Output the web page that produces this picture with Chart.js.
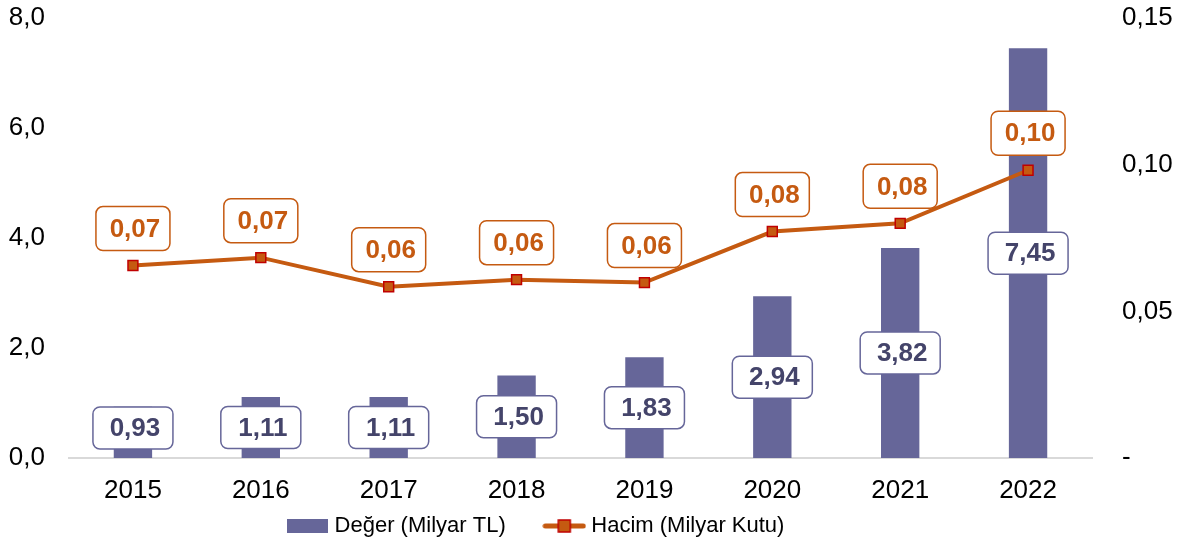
<!DOCTYPE html>
<html>
<head>
<meta charset="utf-8">
<script src="https://cdn.jsdelivr.net/npm/chart.js@4/dist/chart.umd.min.js"></script>
<style>
  html, body { margin: 0; padding: 0; background: #fff; }
  #box { width: 1184px; height: 547px; }
</style>
</head>
<body>
<div id="box"><canvas id="graf"></canvas></div>
<script>
// dados do grafico
var anos = ['2015', '2016', '2017', '2018', '2019', '2020', '2021', '2022']
var deger = [0.93, 1.11, 1.11, 1.50, 1.83, 2.94, 3.82, 7.45]
var hacim = [0.0656, 0.0683, 0.0584, 0.0608, 0.0598, 0.0772, 0.0800, 0.0981]
var ticksSol = [0, 2, 4, 6, 8]
var ticksSag = [0, 0.05, 0.10, 0.15]

var corBarra = '#666699'
var corTextoBarra = '#44446a'
var corLinha = '#c55a11'
var corBorda = '#c00000'
var fonte = "'Liberation Sans', Arial, sans-serif"

function virgula(v, casas){
    return v.toFixed(casas).replace('.', ',')
}

// icones da legenda
function iconeBarra(){
    var c = document.createElement('canvas')
    c.width = 41; c.height = 14
    var ctx = c.getContext('2d')
    ctx.fillStyle = corBarra
    ctx.fillRect(0, 0, 41, 14)
    return c
}

function iconeLinha(){
    var c = document.createElement('canvas')
    c.width = 44; c.height = 16
    var ctx = c.getContext('2d')
    ctx.strokeStyle = corLinha
    ctx.lineWidth = 5
    ctx.lineCap = 'round'
    ctx.beginPath(); ctx.moveTo(3, 8); ctx.lineTo(41, 8); ctx.stroke()
    ctx.fillStyle = corLinha
    ctx.fillRect(16, 2, 12, 12)
    ctx.strokeStyle = corBorda
    ctx.lineWidth = 1.5
    ctx.strokeRect(16, 2, 12, 12)
    return c
}

function caixa(ctx, cx, cy, w, h, texto, corTexto, corBox){
    var x = cx - w / 2, y = cy - h / 2, r = 7
    ctx.beginPath()
    ctx.moveTo(x + r, y)
    ctx.arcTo(x + w, y, x + w, y + h, r)
    ctx.arcTo(x + w, y + h, x, y + h, r)
    ctx.arcTo(x, y + h, x, y, r)
    ctx.arcTo(x, y, x + w, y, r)
    ctx.closePath()
    ctx.fillStyle = '#ffffff'
    ctx.fill()
    ctx.lineWidth = 1.5
    ctx.strokeStyle = corBox
    ctx.stroke()
    ctx.fillStyle = corTexto
    ctx.font = 'bold 26px ' + fonte
    ctx.textAlign = 'center'
    ctx.textBaseline = 'middle'
    ctx.fillText(texto, cx + 2, cy + 1)
}

// rotulos com caixa arredondada + ajuste da legenda
var rotulos = {
    id: 'rotulos',
    afterLayout: function(chart){
        // legenda um pouco deslocada para a esquerda, como no original
        chart.legend.right -= 108
    },
    afterDatasetsDraw: function(chart){
        var ctx = chart.ctx
        ctx.save()
        var barras = chart.getDatasetMeta(0)
        barras.data.forEach(function(el, i){
            var cy = Math.min((el.y + el.base) / 2, el.base - 30)
            caixa(ctx, el.x, cy, 80, 42, virgula(deger[i], 2), corTextoBarra, corBarra)
        })
        var linha = chart.getDatasetMeta(1)
        linha.data.forEach(function(el, i){
            caixa(ctx, el.x, el.y - 37, 74, 44, virgula(hacim[i], 2), corLinha, corLinha)
        })
        ctx.restore()
    }
}

// largura fixa e sem padding automatico nos eixos verticais
function fixaEixo(largura){
    return function(s){
        s.width = largura
        s.paddingTop = 0
        s.paddingBottom = 0
    }
}

try{
    new Chart(document.getElementById('graf'), {
        type: 'bar',
        data: {
            labels: anos,
            datasets: [
                {
                    label: 'Değer (Milyar TL)',
                    data: deger,
                    backgroundColor: corBarra,
                    barPercentage: 0.3,
                    categoryPercentage: 1,
                    yAxisID: 'y',
                    order: 2
                },
                {
                    type: 'line',
                    label: 'Hacim (Milyar Kutu)',
                    data: hacim,
                    borderColor: corLinha,
                    borderWidth: 4,
                    pointStyle: 'rect',
                    pointRadius: 7,
                    pointBackgroundColor: corLinha,
                    pointBorderColor: corBorda,
                    pointBorderWidth: 1.5,
                    tension: 0,
                    yAxisID: 'y2',
                    order: 1
                }
            ]
        },
        options: {
            responsive: true,
            maintainAspectRatio: false,
            animation: false,
            layout: { autoPadding: false, padding: { top: 18, bottom: 0, left: 0, right: 0 } },
            scales: {
                x: {
                    grid: { display: false },
                    border: { display: true, color: '#d9d9d9', width: 2 },
                    afterFit: function(s){ s.height = 45 },
                    ticks: { color: '#000', font: { family: fonte, size: 26 }, padding: 9 }
                },
                y: {
                    position: 'left',
                    min: 0, max: 8,
                    afterBuildTicks: function(s){ s.ticks = ticksSol.map(function(v){ return { value: v } }) },
                    afterFit: fixaEixo(69),
                    grid: { display: false },
                    border: { display: false },
                    ticks: {
                        color: '#000', font: { family: fonte, size: 26 }, padding: 16,
                        callback: function(v){ return virgula(v, 1) }
                    }
                },
                y2: {
                    position: 'right',
                    min: 0, max: 0.15,
                    afterBuildTicks: function(s){ s.ticks = ticksSag.map(function(v){ return { value: v } }) },
                    afterFit: fixaEixo(92),
                    grid: { display: false },
                    border: { display: false },
                    ticks: {
                        color: '#000', font: { family: fonte, size: 26 }, padding: 22,
                        callback: function(v){ return v === 0 ? '-' : virgula(v, 2) }
                    }
                }
            },
            plugins: {
                tooltip: { enabled: false },
                legend: {
                    position: 'bottom',
                    labels: {
                        color: '#000',
                        font: { family: fonte, size: 22 },
                        usePointStyle: true,
                        pointStyleWidth: 32,
                        padding: 12,
                        sort: function(a, b){ return a.datasetIndex - b.datasetIndex },
                        generateLabels: function(chart){
                            var itens = Chart.defaults.plugins.legend.labels.generateLabels(chart)
                            itens.forEach(function(it){
                                if(it.datasetIndex === 0){
                                    it.pointStyle = iconeBarra()
                                    it.text = it.text + '     ' // espaco extra entre os itens
                                }else{
                                    it.pointStyle = iconeLinha()
                                }
                            })
                            return itens
                        }
                    }
                }
            }
        },
        plugins: [rotulos]
    })
}catch(e){ console.error(e) }
</script>
</body>
</html>
